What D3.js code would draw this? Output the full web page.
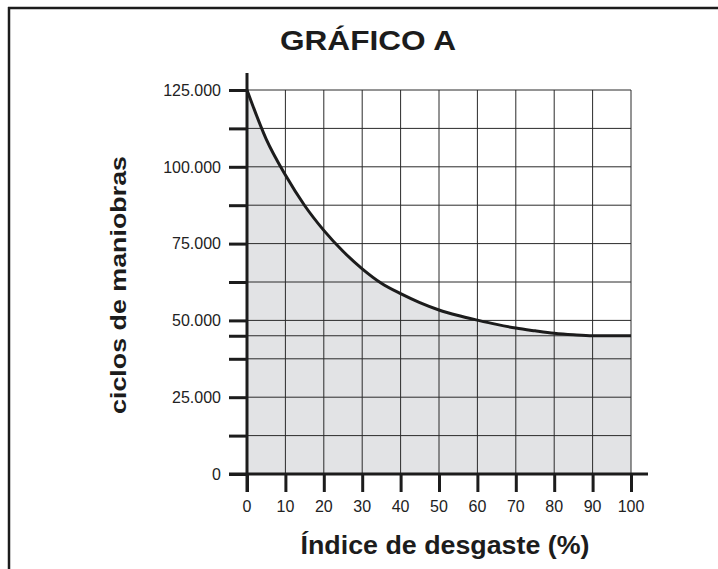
<!DOCTYPE html>
<html><head><meta charset="utf-8">
<script src="https://cdn.jsdelivr.net/npm/d3@7"></script>
<style>html,body{margin:0;padding:0;background:#fff;}svg{display:block;}</style>
</head><body>
<svg id="chart" width="718" height="569"></svg>
<script>
// Data
const wear = [0,5,10,15,20,25,30,35,40,45,50,55,60,65,70,75,80,85,90,95,100];
const cycles = [125000,109000,97300,87400,79300,72500,66800,62100,58700,55800,53400,51600,50100,48700,47500,46600,45800,45300,45000,45000,45000];
const xTicks = [0,10,20,30,40,50,60,70,80,90,100];
const yTicks = [0,12500,25000,37500,45000,50000,62500,75000,87500,100000,112500,125000];
const yLabelTicks = [0,25000,50000,75000,100000,125000];
const yLabelText = ["0","25.000","50.000","75.000","100.000","125.000"];
const title = "GRÁFICO A";
const xTitle = "Índice de desgaste (%)";
const yTitle = "ciclos de maniobras";

const svg = d3.select("#chart");
const x = d3.scaleLinear().domain([0,100]).range([247,631]);
const y = d3.scaleLinear().domain([0,125000]).range([474,90]);
const ink = "#1c1c1c";
const font = "'Liberation Sans', Arial, Helvetica, sans-serif";

// frame
svg.append("line").attr("x1",8).attr("x2",718).attr("y1",8).attr("y2",8).attr("stroke",ink).attr("stroke-width",2.5);
svg.append("line").attr("x1",9).attr("x2",9).attr("y1",7).attr("y2",569).attr("stroke",ink).attr("stroke-width",2.5);

// area
const pts = wear.map((w,i)=>[w,cycles[i]]);
svg.append("path").datum(pts)
  .attr("d", d3.area().x(d=>x(d[0])).y0(y(0)).y1(d=>y(d[1])).curve(d3.curveMonotoneX))
  .attr("fill","#e2e3e5");

// grid
const g = svg.append("g");
g.selectAll("line.v").data(xTicks.slice(1)).join("line")
  .attr("x1",d=>x(d)).attr("x2",d=>x(d)).attr("y1",y(125000)).attr("y2",y(0))
  .attr("stroke","#2a2a2a").attr("stroke-width",1);
g.selectAll("line.h").data(yTicks.slice(1)).join("line")
  .attr("x1",x(0)).attr("x2",x(100)).attr("y1",d=>y(d)).attr("y2",d=>y(d))
  .attr("stroke","#2a2a2a").attr("stroke-width",1);

// curve
svg.append("path").datum(pts)
  .attr("d", d3.line().x(d=>x(d[0])).y(d=>y(d[1])).curve(d3.curveMonotoneX))
  .attr("fill","none").attr("stroke",ink).attr("stroke-width",3);

// axes
const yAxis = d3.axisLeft(y).tickValues(yTicks).tickSize(18).tickFormat("");
const ya = svg.append("g").attr("transform",`translate(${x(0)},0)`).call(yAxis);
ya.select(".domain").remove();
ya.selectAll(".tick line").attr("stroke",ink).attr("stroke-width",3);

const xAxis = d3.axisBottom(x).tickValues(xTicks).tickSize(18).tickFormat("");
const xa = svg.append("g").attr("transform",`translate(0,${y(0)})`).call(xAxis);
xa.select(".domain").remove();
xa.selectAll(".tick line").attr("stroke",ink).attr("stroke-width",3);

// axis lines
svg.append("line").attr("x1",x(0)).attr("x2",x(0)).attr("y1",73).attr("y2",492).attr("stroke",ink).attr("stroke-width",3);
svg.append("line").attr("x1",229).attr("x2",648).attr("y1",y(0)).attr("y2",y(0)).attr("stroke",ink).attr("stroke-width",3);

// tick labels
svg.append("g").selectAll("text").data(yLabelTicks).join("text")
  .attr("x",221).attr("y",d=>y(d)).attr("dy","0.36em").attr("text-anchor","end")
  .attr("font-family",font).attr("font-size",16).attr("fill","#222")
  .text((d,i)=>yLabelText[i]);
svg.append("g").selectAll("text").data(xTicks).join("text")
  .attr("x",d=>x(d)).attr("y",512).attr("text-anchor","middle")
  .attr("font-family",font).attr("font-size",16).attr("fill","#222")
  .text(d=>d);

// titles
svg.append("text").attr("x",368).attr("y",50).attr("text-anchor","middle")
  .attr("font-family",font).attr("font-weight","bold").attr("font-size",28).attr("fill",ink)
  .attr("textLength",176).attr("lengthAdjust","spacingAndGlyphs").text(title);
svg.append("text").attr("x",445).attr("y",554).attr("text-anchor","middle")
  .attr("font-family",font).attr("font-weight","bold").attr("font-size",25).attr("fill",ink)
  .attr("textLength",289).attr("lengthAdjust","spacingAndGlyphs").text(xTitle);
svg.append("text").attr("transform","translate(126,285) rotate(-90)").attr("text-anchor","middle")
  .attr("font-family",font).attr("font-weight","bold").attr("font-size",22).attr("fill",ink)
  .attr("textLength",258).attr("lengthAdjust","spacingAndGlyphs").text(yTitle);
</script>
</body></html>
